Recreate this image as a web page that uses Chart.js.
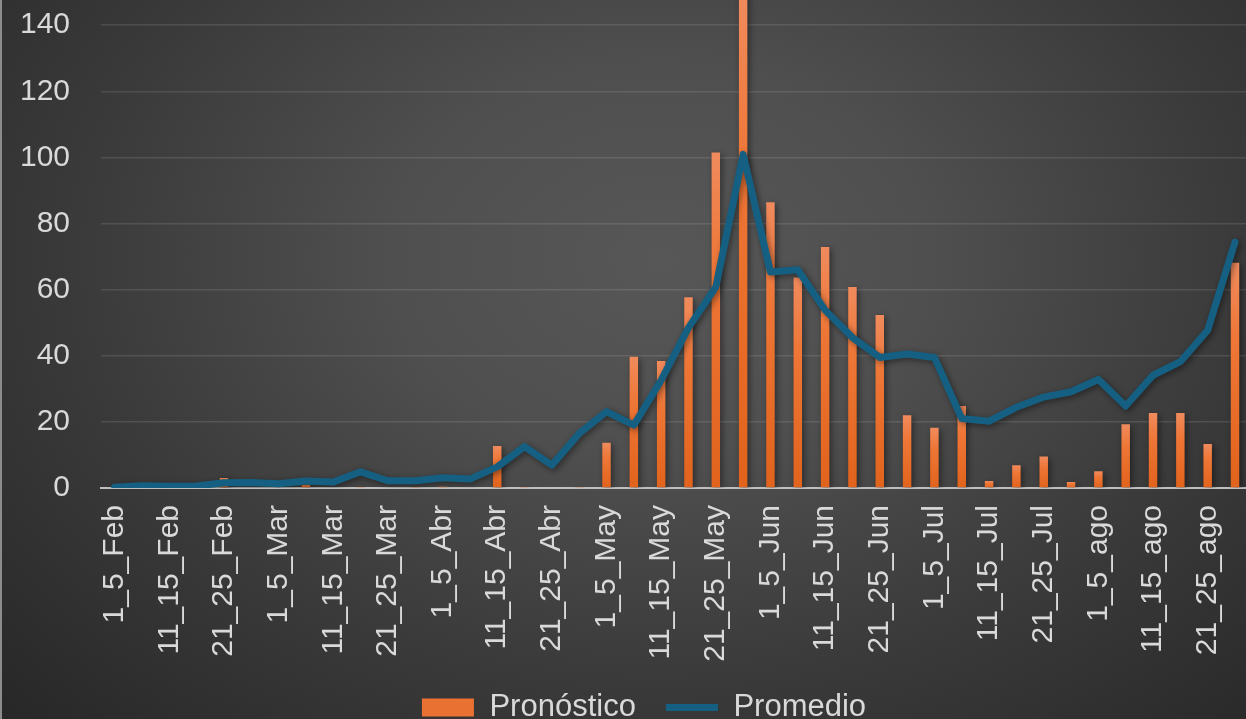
<!DOCTYPE html>
<html>
<head>
<meta charset="utf-8">
<script src="https://cdn.jsdelivr.net/npm/chart.js@4.4.1/dist/chart.umd.min.js"></script>
<style>
  html, body { margin: 0; padding: 0; }
  body {
    width: 1246px;
    height: 719px;
    overflow: hidden;
    position: relative;
    background: radial-gradient(ellipse 900px 650px at 660px 260px, #575757 0%, #4f4f4f 30%, #3a3a3a 65%, #282828 100%);
  }
  .edge { position: absolute; left: 0; top: 0; width: 2px; height: 719px; background: #8c8c8c; }
  .wrap { position: absolute; left: 0; top: -90px; width: 1288px; height: 823px; }
</style>
</head>
<body>
<div class="wrap"><canvas id="chart"></canvas></div>
<div class="edge"></div>
<script>
const periodos = [
  "1_5_Feb", "6_10_Feb", "11_15_Feb", "16_20_Feb", "21_25_Feb", "26_29_Feb",
  "1_5_Mar", "6_10_Mar", "11_15_Mar", "16_20_Mar", "21_25_Mar", "26_31_Mar",
  "1_5_Abr", "6_10_Abr", "11_15_Abr", "16_20_Abr", "21_25_Abr", "26_30_Abr",
  "1_5_May", "6_10_May", "11_15_May", "16_20_May", "21_25_May", "26_31_May",
  "1_5_Jun", "6_10_Jun", "11_15_Jun", "16_20_Jun", "21_25_Jun", "26_30_Jun",
  "1_5_Jul", "6_10_Jul", "11_15_Jul", "16_20_Jul", "21_25_Jul", "26_31_Jul",
  "1_5_ago", "6_10_ago", "11_15_ago", "16_20_ago", "21_25_ago", "26_31_ago",
];

const pronostico = [
  0, 0, 0, 0, 3, 0,
  0, 1, 0, 0.3, 0.2, 0.3,
  0.4, 0.2, 12.7, 0.3, 0, 0.3,
  13.7, 39.7, 38.4, 57.7, 101.5, 150,
  86.4, 63.7, 72.9, 60.8, 52.3, 22.0,
  18.2, 24.8, 2.1, 6.9, 9.5, 1.8,
  5.1, 19.3, 22.7, 22.7, 13.3, 68.1,
];

const promedio = [
  0.2, 0.7, 0.5, 0.6, 1.6, 1.7,
  1.3, 2.1, 1.8, 4.9, 2.2, 2.2,
  3.1, 2.7, 6.4, 12.5, 6.9, 16.5,
  23.1, 19.0, 32.6, 48.5, 60.8, 100.9,
  65.3, 66.0, 53.8, 45.5, 39.5, 40.5,
  39.5, 21.0, 20.2, 24.4, 27.5, 29.1,
  32.8, 24.8, 34.1, 38.2, 47.7, 74.4,
];

const yTicks = [0, 20, 40, 60, 80, 100, 120, 140, 160];

const textColor = "#d9d9d9";
const fontFamily = "'Liberation Sans', Arial, sans-serif";

// each bar gets its own light-to-dark gradient
function barFill(c) {
  const { chart } = c;
  const y = chart.scales.y;
  if (!y || c.raw === undefined) return "#e97132";
  const top = y.getPixelForValue(c.raw);
  const base = y.getPixelForValue(0);
  if (!Number.isFinite(top) || base - top < 1) return "#e97132";
  const g = chart.ctx.createLinearGradient(0, top, 0, base);
  g.addColorStop(0, "#f08b5d");
  g.addColorStop(0.35, "#ee7636");
  g.addColorStop(1, "#e1631c");
  return g;
}

const shadowPlugin = {
  id: "shadows",
  beforeDatasetDraw(chart) {
    const { ctx } = chart;
    ctx.save();
    ctx.shadowColor = "rgba(0,0,0,0.45)";
    ctx.shadowBlur = 6;
    ctx.shadowOffsetX = 2;
    ctx.shadowOffsetY = 2;
  },
  afterDatasetDraw(chart) {
    chart.ctx.restore();
  },
};

const ctx = document.getElementById("chart").getContext("2d");

const chart = new Chart(ctx, {
  type: "bar",
  data: {
    labels: periodos,
    datasets: [
      {
        type: "bar",
        label: "Pronóstico",
        data: pronostico,
        backgroundColor: barFill,
        borderWidth: 0,
        barPercentage: 0.31,
        categoryPercentage: 1,
        pointStyle: "rect",
        order: 2,
      },
      {
        type: "line",
        label: "Promedio",
        data: promedio,
        borderColor: "#156082",
        backgroundColor: "#156082",
        borderWidth: 7,
        borderJoinStyle: "round",
        borderCapStyle: "round",
        pointRadius: 0,
        pointHoverRadius: 0,
        tension: 0,
        pointStyle: "line",
        order: 1,
      },
    ],
  },
  options: {
    responsive: true,
    maintainAspectRatio: false,
    animation: false,
    layout: { padding: { top: 18, left: 0, right: 0, bottom: 0 } },
    plugins: {
      tooltip: { enabled: false },
      legend: {
        position: "bottom",
        labels: {
          color: textColor,
          font: { family: fontFamily, size: 31 },
          usePointStyle: true,
          pointStyleWidth: 52,
          boxHeight: 18,
          padding: 30,
          sort: (a, b) => a.datasetIndex - b.datasetIndex,
        },
      },
    },
    scales: {
      x: {
        grid: { display: false, drawTicks: false },
        border: { display: true, color: "#bfbfbf", width: 2 },
        ticks: {
          color: textColor,
          font: { family: fontFamily, size: 30 },
          autoSkip: false,
          minRotation: 90,
          maxRotation: 90,
          padding: 17,
          callback: (v, i) => (i % 2 === 0 ? periodos[i] : ""),
        },
        afterFit: (scale) => { scale.height = 174; },
      },
      y: {
        min: 0,
        max: 160,
        afterBuildTicks: (scale) => { scale.ticks = yTicks.map((v) => ({ value: v })); },
        grid: { color: "rgba(255,255,255,0.11)", lineWidth: 1.5, drawTicks: false },
        border: { display: false },
        ticks: {
          color: textColor,
          font: { family: fontFamily, size: 30 },
          padding: 31,
        },
        afterFit: (scale) => { scale.width = 101; },
      },
    },
  },
  plugins: [shadowPlugin],
});
</script>
</body>
</html>
